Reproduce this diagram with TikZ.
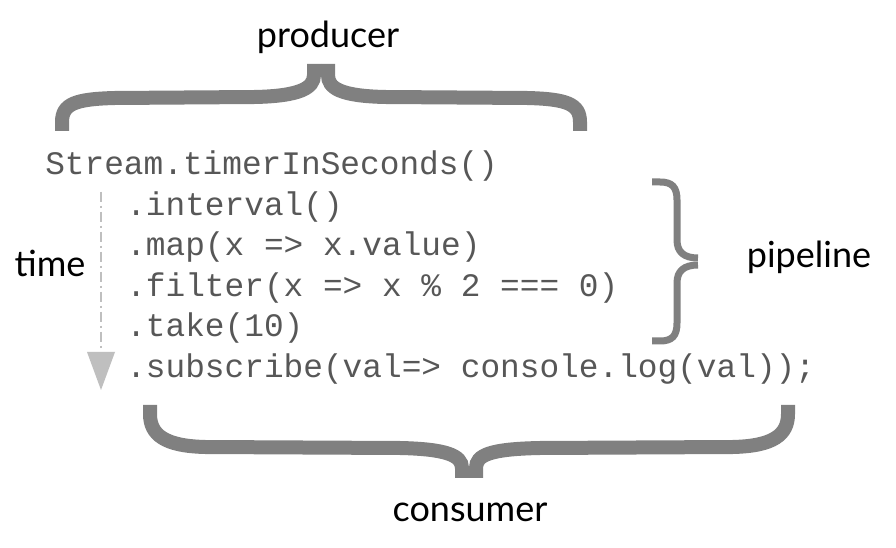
\documentclass[tikz,border=0pt]{standalone}
\usepackage{fontspec}
\setmonofont{Liberation Mono}
\newfontfamily\labelfont{Lato}
\begin{document}
\begin{tikzpicture}[x=0.75pt,y=-0.75pt,
  code/.style={font=\ttfamily\fontsize{24.6pt}{28pt}\selectfont, text=black!66, inner sep=0pt, anchor=base west},
  lbl/.style={font=\labelfont\fontsize{27pt}{30pt}\selectfont, text=black, inner sep=0pt, anchor=base},
  bigbrace/.style={draw=black!50, line width=10.5pt, line cap=butt},
  smallbrace/.style={draw=black!50, line width=5.25pt, line cap=butt},
  timeline/.style={draw=black!25, line width=1.5pt, dash pattern=on 7.5pt off 3pt on 1.5pt off 3pt},
  timehead/.style={fill=black!25, draw=none}]
\useasboundingbox (0,0) rectangle (896,548);
\fill[white] (0,0) rectangle (896,548);

% labels
\node[lbl] (producer) at (328,48) {producer};
\node[lbl] (time) at (50,277) {time};
\node[lbl] (pipeline) at (809,268) {pipeline};
\node[lbl] (consumer) at (470,522) {consumer};

% code
\node[code] (l1) at (45,175) {Stream.timerInSeconds()};
\node[code] (l2) at (126,215.5) {.interval()};
\node[code] (l3) at (126,256) {.map(x => x.value)};
\node[code] (l4) at (126,296.5) {.filter(x => x \% 2 === 0)};
\node[code] (l5) at (126,337) {.take(10)};
\node[code] (l6) at (126,377.5) {.subscribe(val=> console.log(val));};

% producer brace
\draw[bigbrace] (62,131) -- (62,122) .. controls (62,104) and (75,99) .. (115,98) -- (255,97) .. controls (300,96) and (314,88) .. (314,75) -- (314,64);
\draw[bigbrace] (580,131) -- (580,122) .. controls (580,104) and (567,99) .. (527,98) -- (385,97) .. controls (340,96) and (328,88) .. (328,75) -- (328,64);

% consumer brace
\draw[bigbrace] (150,405) -- (150,414) .. controls (150,435) and (165,446) .. (205,447) -- (400,448) .. controls (445,449) and (462,455) .. (462,468) -- (462,478);
\draw[bigbrace] (788,405) -- (788,414) .. controls (788,435) and (773,446) .. (733,447) -- (540,448) .. controls (490,449) and (476,455) .. (476,468) -- (476,478);

% pipeline brace
\draw[smallbrace] (652,182) -- (660,182) .. controls (672,182) and (677,187) .. (677,200) -- (677,240) .. controls (677,252) and (684,258) .. (698,258);
\draw[smallbrace] (652,341) -- (660,341) .. controls (672,341) and (677,336) .. (677,323) -- (677,283) .. controls (677,271) and (684,265) .. (698,265);

% time arrow
\coordinate (tstart) at (101,192);
\coordinate (tend) at (101,352);
\coordinate (ttip) at (101,390);
\draw[timeline] (tstart) -- (tend);
\path[timehead] ([xshift=-10.5pt]tend) -- ([xshift=10.5pt]tend) -- (ttip) -- cycle;
\end{tikzpicture}
\end{document}
